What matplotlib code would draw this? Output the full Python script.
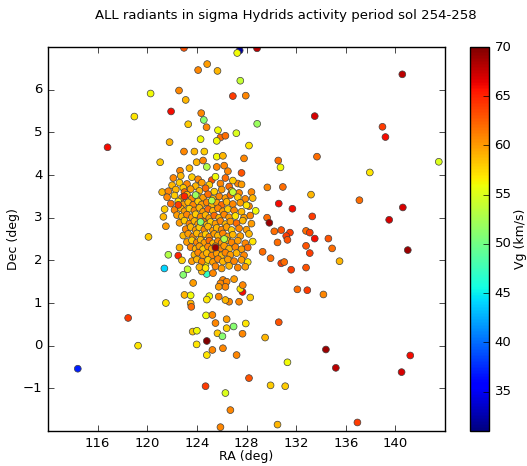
import numpy as np
import matplotlib
matplotlib.use("Agg")
import matplotlib.pyplot as plt

# radiants (RA deg, Dec deg, Vg km/s) leidos de la figura
# puntos dispersos
ra_out = [122.96, 127.45, 127.25, 128.85, 124.83, 124.10, 125.66, 127.50, 120.27, 122.56,
          123.10, 126.90, 127.94, 118.96, 121.92, 124.35, 124.56, 123.30, 124.78, 125.70,
          127.18, 128.86, 116.80, 121.80, 124.30, 125.90, 126.30, 125.60, 128.20, 133.50,
          121.04, 122.96, 123.80, 124.60, 127.80, 123.98, 124.50, 125.60, 126.10, 124.80,
          125.60, 126.20, 122.64, 123.40, 126.50, 127.60, 130.56, 133.68, 130.74, 137.94,
          143.50, 140.56, 138.96, 139.20, 140.60, 139.50, 141.00, 137.10]
dec_out = [6.98, 6.92, 6.86, 6.97, 6.60, 6.46, 6.44, 6.21, 5.91, 5.98,
           5.76, 5.85, 5.86, 5.37, 5.49, 5.45, 5.29, 5.19, 5.12, 5.05,
           4.98, 5.20, 4.65, 4.77, 4.84, 4.88, 4.92, 4.80, 4.69, 5.38,
           4.30, 4.55, 4.55, 4.55, 4.39, 4.30, 4.34, 4.43, 4.45, 4.19,
           4.19, 4.22, 4.10, 4.16, 4.09, 4.05, 4.34, 4.43, 4.18, 4.06,
           4.31, 6.36, 5.13, 4.89, 3.24, 2.95, 2.24, 3.41]
vg_out = [63, 32, 56, 68, 60, 61, 59, 54, 56, 61,
          59, 64, 61, 57, 66, 61, 51, 58, 61, 56,
          55, 52, 66, 59, 56, 62, 62, 56, 57, 67,
          58, 61, 59, 58, 61, 59, 61, 56, 59, 53,
          61, 61, 61, 59, 61, 63, 62, 62, 56, 57,
          55, 68, 64, 66, 67, 67, 69, 62]

# lado derecho
ra_der = [129.68, 130.93, 127.30, 133.20, 130.60, 131.70, 133.30, 129.66, 129.84, 128.74,
          128.20, 130.24, 130.80, 131.50, 132.80, 133.10, 131.20, 133.50, 134.60, 131.30,
          130.50, 132.80, 133.10, 134.90, 135.50, 129.30, 129.94, 130.80, 131.04, 131.60,
          132.80, 132.10, 132.90, 134.20, 130.60, 129.50, 134.40, 141.20, 131.30, 135.20,
          140.50, 129.94, 131.12, 128.20, 130.50, 136.94, 128.30]
dec_der = [3.71, 3.72, 3.80, 3.54, 3.33, 3.21, 3.03, 3.00, 2.88, 3.16,
           3.27, 2.68, 2.71, 2.65, 2.69, 2.65, 2.57, 2.51, 2.51, 2.48,
           2.42, 2.34, 2.17, 2.28, 1.98, 2.20, 2.05, 1.93, 1.96, 1.78,
           1.83, 1.32, 1.30, 1.20, 0.55, 0.19, -0.09, -0.23, -0.39, -0.52,
           -0.62, -0.93, -0.95, -0.76, -1.85, -1.80, 1.13]
vg_der = [61, 62, 61, 59, 66, 66, 64, 62, 69, 56,
          61, 62, 63, 64, 62, 64, 64, 66, 63, 63,
          62, 63, 64, 62, 59, 62, 62, 64, 62, 64,
          63, 62, 64, 61, 63, 59, 69, 66, 56, 68,
          67, 58, 58, 63, 59, 64, 58]

# abajo / izquierda
ra_abj = [114.40, 119.26, 118.46, 121.38, 121.50, 121.70, 122.50, 122.90, 123.25, 123.70,
          123.00, 123.50, 123.50, 123.55, 123.66, 124.00, 123.98, 124.74, 125.25, 124.80,
          124.80, 125.25, 126.10, 125.66, 126.06, 125.50, 126.40, 126.40, 126.96, 127.94,
          127.68, 127.20, 124.70, 126.30, 126.70, 125.90, 127.68, 127.50, 127.70, 127.40,
          127.00, 126.60, 126.30, 125.76, 125.00, 124.80, 126.10, 126.40, 125.90, 126.30,
          125.76, 124.70, 124.80, 125.30, 124.40, 125.00, 120.10, 121.30, 121.50, 122.60,
          122.80, 121.20, 121.40]
dec_abj = [-0.54, 0.00, 0.65, 1.81, 1.00, 2.13, 2.11, 1.66, 1.79, 1.47,
           1.19, 1.18, 0.99, 0.91, 0.33, 0.35, 0.03, 0.71, 0.72, 0.11,
           -0.22, -0.10, -0.06, 0.29, 0.22, 0.53, 0.62, 0.41, 0.45, 0.52,
           0.28, -0.22, -0.95, -1.11, -1.51, -1.91, 1.26, 1.33, 1.42, 1.03,
           1.56, 1.03, 1.07, 1.15, 1.16, 1.08, 1.54, 1.50, 1.46, 1.38,
           1.38, 1.90, 1.68, 1.70, 1.74, 2.10, 2.55, 3.02, 2.80, 2.30,
           2.00, 3.60, 3.20]
vg_abj = [37, 57, 64, 44, 57, 53, 65, 51, 54, 60,
          59, 56, 59, 62, 58, 56, 57, 56, 61, 70,
          57, 61, 61, 58, 51, 61, 60, 58, 51, 57,
          61, 61, 64, 55, 61, 61, 66, 57, 61, 61,
          60, 61, 59, 61, 56, 57, 61, 61, 61, 61,
          60, 56, 47, 61, 59, 54, 58, 59, 60, 59,
          58, 59, 58]

# nucleo denso
ra_nuc = [122.1, 122.7, 123.6, 124.1, 125.2, 125.5, 126.3, 126.9,
          122.0, 122.6, 123.2, 123.9, 124.4, 125.0, 125.9, 126.6, 127.6, 122.9,
          121.7, 122.3, 123.0, 123.5, 124.2, 124.7, 125.4, 126.0, 126.8, 127.4, 128.4,
          121.6, 122.2, 122.8, 123.2, 123.6, 124.0, 124.5, 124.9, 125.3, 125.8, 126.3, 126.7, 127.3, 127.9, 128.5,
          121.9, 122.5, 122.9, 123.3, 123.7, 124.1, 124.4, 124.8, 125.2, 125.6, 126.0, 126.4, 126.9, 127.5, 128.0,
          122.2, 122.7, 123.0, 123.4, 123.8, 124.2, 124.5, 124.9, 125.3, 125.7, 126.1, 126.5, 127.0, 127.6, 122.4,
          122.8, 123.2, 123.6, 123.9, 124.3, 124.7, 125.0, 125.4, 125.8, 126.2, 126.6, 127.1, 127.8, 128.3,
          122.6, 123.0, 123.4, 123.8, 124.1, 124.5, 124.8, 125.1, 125.5, 125.9, 126.3, 126.7, 127.2, 127.7, 128.4,
          123.1, 123.5, 123.9, 124.2, 124.6, 124.9, 125.3, 125.6, 126.0, 126.4, 126.8, 127.4, 128.0,
          122.9, 123.3, 123.7, 124.0, 124.4, 124.7, 125.0, 125.4, 125.7, 126.1, 126.5, 126.9, 127.5, 128.2,
          123.2, 123.6, 124.0, 124.3, 124.6, 125.0, 125.3, 125.7, 126.0, 126.4, 126.8, 127.3, 127.9, 128.5,
          123.5, 123.9, 124.2, 124.5, 124.9, 125.2, 125.5, 125.9, 126.2, 126.6, 127.1, 127.6, 128.1,
          123.8, 124.1, 124.5, 124.8, 125.2, 125.6, 126.0, 126.3, 126.7, 127.2, 127.8,
          123.6, 124.0, 124.4, 124.9, 125.3, 125.7, 126.1, 126.5, 127.0, 127.6, 128.1,
          124.2, 124.7, 125.5, 126.0, 126.6, 127.3, 127.9,
          123.9, 125.2, 126.9, 124.3, 126.2, 125.5, 123.0, 122.5]
dec_nuc = [3.93, 3.98, 3.95, 3.90, 3.88, 3.96, 3.93, 3.87,
           3.76, 3.82, 3.79, 3.74, 3.82, 3.77, 3.80, 3.73, 3.78, 3.70,
           3.62, 3.66, 3.60, 3.67, 3.63, 3.69, 3.61, 3.66, 3.63, 3.58, 3.60,
           3.48, 3.52, 3.47, 3.54, 3.45, 3.52, 3.47, 3.55, 3.44, 3.50, 3.46, 3.53, 3.48, 3.44, 3.46,
           3.33, 3.38, 3.31, 3.36, 3.30, 3.38, 3.31, 3.36, 3.29, 3.35, 3.30, 3.37, 3.32, 3.35, 3.29,
           3.18, 3.22, 3.15, 3.21, 3.17, 3.23, 3.14, 3.20, 3.16, 3.22, 3.15, 3.20, 3.17, 3.14, 3.06,
           3.03, 3.07, 3.01, 3.08, 3.02, 3.06, 2.99, 3.05, 3.00, 3.07, 3.01, 3.04, 3.00, 3.05,
           2.88, 2.93, 2.86, 2.92, 2.85, 2.91, 2.84, 2.90, 2.86, 2.92, 2.85, 2.91, 2.87, 2.93, 2.86,
           2.73, 2.78, 2.71, 2.77, 2.72, 2.79, 2.70, 2.76, 2.72, 2.78, 2.71, 2.75, 2.72,
           2.58, 2.62, 2.56, 2.63, 2.57, 2.61, 2.55, 2.62, 2.58, 2.63, 2.56, 2.60, 2.57, 2.62,
           2.43, 2.47, 2.42, 2.48, 2.41, 2.46, 2.40, 2.45, 2.41, 2.47, 2.42, 2.46, 2.40, 2.44,
           2.31, 2.27, 2.33, 2.26, 2.32, 2.27, 2.33, 2.28, 2.34, 2.27, 2.31, 2.26, 2.30,
           2.13, 2.18, 2.12, 2.17, 2.11, 2.16, 2.12, 2.18, 2.13, 2.17, 2.12,
           1.98, 2.02, 1.97, 2.01, 1.96, 2.03, 1.97, 2.02, 1.98, 2.01, 1.96,
           1.84, 1.82, 1.86, 1.81, 1.87, 1.83, 1.85,
           3.53, 3.40, 3.60, 2.90, 2.50, 2.30, 3.50, 3.30]
vg_nuc = [61, 59, 58, 61, 63, 56, 62, 58,
          59, 58, 61, 59, 60, 58, 61, 62, 60, 58,
          61, 59, 62, 60, 59, 62, 58, 60, 59, 61, 61,
          61, 58, 60, 59, 61, 57, 60, 62, 59, 61, 60, 62, 58, 61, 59,
          62, 57, 60, 59, 61, 58, 60, 61, 59, 60, 62, 59, 61, 60, 57,
          61, 59, 60, 58, 61, 59, 60, 62, 59, 61, 60, 58, 61, 59, 60,
          59, 61, 60, 58, 61, 59, 60, 62, 59, 61, 60, 57, 60, 61,
          60, 58, 61, 59, 60, 61, 59, 58, 60, 61, 59, 60, 62, 59, 60,
          61, 59, 60, 58, 61, 59, 60, 59, 61, 60, 58, 61, 60,
          59, 60, 61, 59, 60, 58, 61, 60, 59, 61, 60, 59, 60, 59,
          60, 58, 61, 59, 60, 62, 59, 61, 60, 59, 61, 60, 61, 57,
          61, 59, 60, 58, 61, 60, 59, 61, 60, 59, 61, 60, 62,
          59, 61, 60, 59, 61, 60, 59, 61, 60, 59, 61,
          60, 59, 61, 58, 60, 61, 59, 60, 61, 60, 57,
          59, 57, 61, 60, 59, 61, 60,
          52, 53, 54, 51, 53, 69, 65, 64]

ra = np.array(ra_out + ra_der + ra_abj + ra_nuc)
dec = np.array(dec_out + dec_der + dec_abj + dec_nuc)
vg = np.array(vg_out + vg_der + vg_abj + vg_nuc)

#%% Grafico
plt.style.use('classic')
plt.rcParams['font.family'] = 'DejaVu Sans'
plt.rcParams['font.size'] = 9

fig = plt.figure(figsize=(5.27, 4.66), dpi=100, facecolor='white')
ax = fig.add_axes([0.0911, 0.0751, 0.7533, 0.824])
cax = fig.add_axes([0.892, 0.0751, 0.036, 0.824])

sc = ax.scatter(ra, dec, c=vg, cmap='jet', vmin=31, vmax=70, s=24,
                edgecolors='0.25', linewidths=0.5)
ax.set_xlim(112, 144)
ax.set_ylim(-2, 7)
ax.set_xticks(np.arange(116, 141, 4))
ax.set_yticks(np.arange(-1, 7, 1))
ax.tick_params(labelsize=9.5)
ax.set_xlabel("RA (deg)", fontsize=9, labelpad=0)
ax.set_ylabel("Dec (deg)", fontsize=9, labelpad=2)
fig.text(0.543, 0.966, "ALL radiants in sigma Hydrids activity period sol 254-258",
         ha='center', va='center', fontsize=9.5)

cb = fig.colorbar(sc, cax=cax)
cb.set_ticks(np.arange(35, 71, 5))
cb.ax.tick_params(labelsize=9.5)
cb.set_label("Vg (km/s)", fontsize=9, labelpad=2)

fig.savefig("out.png", dpi=100, facecolor='white')
